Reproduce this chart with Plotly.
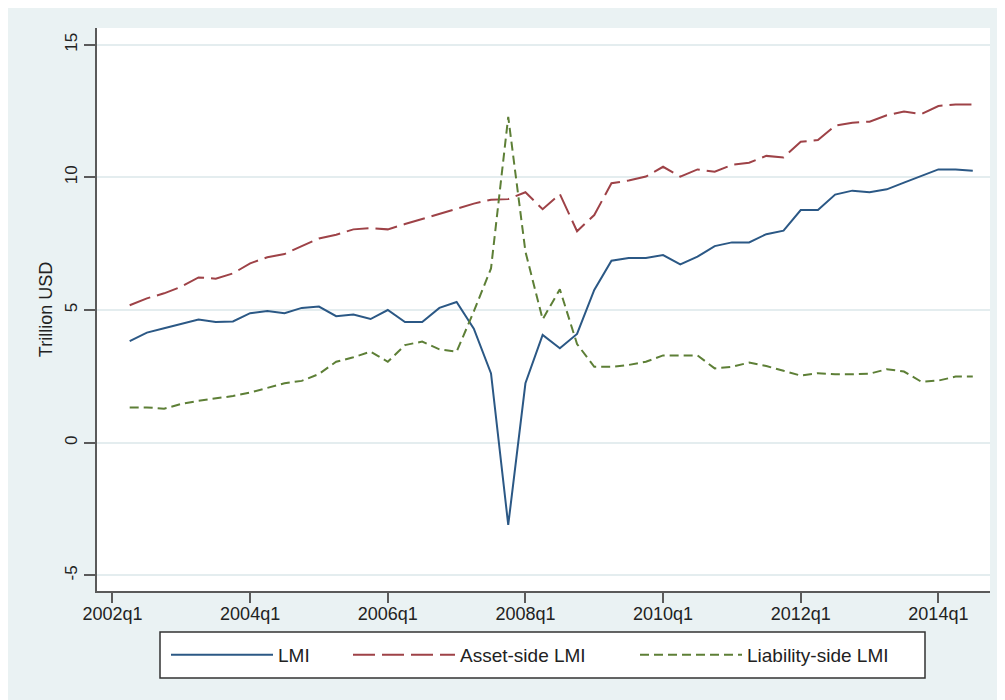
import plotly.graph_objects as go

# quarters 2002q2 .. 2014q3
quarters = [f"{y}q{q}" for y in range(2002, 2015) for q in range(1, 5)][1:51]

lmi = [3.83, 4.15, 4.31, 4.47, 4.64, 4.55, 4.57, 4.88, 4.96, 4.88,
       5.08, 5.13, 4.77, 4.83, 4.66, 5.00, 4.55, 4.55, 5.08, 5.30,
       4.30, 2.61, -3.10, 2.24, 4.06, 3.56, 4.10, 5.76, 6.86, 6.96,
       6.96, 7.07, 6.72, 7.01, 7.41, 7.55, 7.55, 7.86, 7.99, 8.77,
       8.77, 9.35, 9.50, 9.44, 9.55, 9.80, 10.06, 10.30, 10.30, 10.25]

asset_lmi = [5.18, 5.44, 5.63, 5.88, 6.23, 6.18, 6.38, 6.76, 6.99, 7.11,
             7.41, 7.70, 7.84, 8.04, 8.09, 8.04, 8.24, 8.43, 8.62, 8.81,
             9.01, 9.16, 9.18, 9.44, 8.80, 9.37, 7.97, 8.58, 9.78, 9.88,
             10.03, 10.40, 10.03, 10.30, 10.21, 10.47, 10.55, 10.81, 10.75, 11.34,
             11.41, 11.95, 12.06, 12.10, 12.34, 12.48, 12.38, 12.69, 12.75, 12.75]

liab_lmi = [1.33, 1.33, 1.28, 1.46, 1.58, 1.67, 1.76, 1.89, 2.06, 2.24,
            2.33, 2.59, 3.05, 3.22, 3.43, 3.05, 3.68, 3.81, 3.52, 3.43,
            4.95, 6.57, 12.28, 7.20, 4.65, 5.78, 3.72, 2.86, 2.86, 2.93,
            3.05, 3.29, 3.29, 3.29, 2.80, 2.86, 3.02, 2.89, 2.71, 2.53,
            2.62, 2.58, 2.58, 2.60, 2.77, 2.68, 2.30, 2.34, 2.49, 2.49]

tick_labels = ["2002q1", "2004q1", "2006q1", "2008q1", "2010q1", "2012q1", "2014q1"]
y_ticks = [-5, 0, 5, 10, 15]
y_tick_labels = ["-5", "0", "5", "10", "15"]


def qindex(s):
    y, q = s.split("q")
    return (int(y) - 2002) * 4 + int(q) - 1


x = [qindex(s) for s in quarters]

FONT = "Liberation Sans, Arial, sans-serif"
AXIS = "#5a5a5a"
BG = "#EAF2F3"

# figure is 997x692 (page body adds 8px margin)
FW, FH = 997, 692
L, R, T, B = 89, 982, 20, 583   # plot area in figure px
W, H = R - L, B - T


def px(xp):
    return (xp - L) / W


def py(yp):
    return (B - yp) / H


fig = go.Figure()
fig.add_trace(go.Scatter(x=x, y=lmi, mode="lines", name="LMI", legend="legend",
                         line=dict(color="#2b5885", width=2)))
fig.add_trace(go.Scatter(x=x, y=asset_lmi, mode="lines", name="Asset-side LMI", legend="legend2",
                         line=dict(color="#9e4247", width=2, dash="22px,7px")))
fig.add_trace(go.Scatter(x=x, y=liab_lmi, mode="lines", name="Liability-side LMI", legend="legend3",
                         line=dict(color="#5d7f36", width=2, dash="9px,5px")))

# one legend per entry so the spacing follows the original box
leg = dict(orientation="h", xanchor="left", y=py(647), yanchor="middle",
           bgcolor="rgba(0,0,0,0)", borderwidth=0, itemwidth=102,
           font=dict(size=19, family=FONT, color="#222"))

fig.update_layout(
    width=FW, height=FH,
    margin=dict(l=L, r=FW - R, t=T, b=FH - B, autoexpand=False),
    paper_bgcolor=BG,
    plot_bgcolor="white",
    font=dict(family=FONT, color="#222"),
    showlegend=True,
    shapes=[
        dict(type="rect", xref="paper", yref="paper", layer="below",
             x0=px(152), x1=px(917), y0=py(670), y1=py(624),
             fillcolor="white", line=dict(color="#333", width=1.5)),
    ],
    legend=dict(leg, x=px(158)),
    legend2=dict(leg, x=px(340)),
    legend3=dict(leg, x=px(627)),
)

fig.update_xaxes(
    range=[-0.9, 51.0],
    tickvals=[qindex(s) for s in tick_labels], ticktext=tick_labels,
    ticks="outside", ticklen=10, tickwidth=2, tickcolor=AXIS,
    ticklabelstandoff=-5,
    showline=True, linecolor=AXIS, linewidth=2,
    showgrid=False, zeroline=False,
    tickfont=dict(size=18, family=FONT, color="#222"),
)
fig.update_yaxes(
    range=[-5.59, 15.63],
    tickvals=y_ticks, ticktext=y_tick_labels, tickangle=-90,
    ticks="outside", ticklen=11, tickwidth=2, tickcolor=AXIS,
    showline=True, linecolor=AXIS, linewidth=2,
    gridcolor="#E4EDEF", gridwidth=1.5, zeroline=False,
    tickfont=dict(size=17, family=FONT, color="#222"),
    title=dict(text="Trillion USD", font=dict(size=18, family=FONT, color="#222"), standoff=5),
)

fig.write_html("out.html")
